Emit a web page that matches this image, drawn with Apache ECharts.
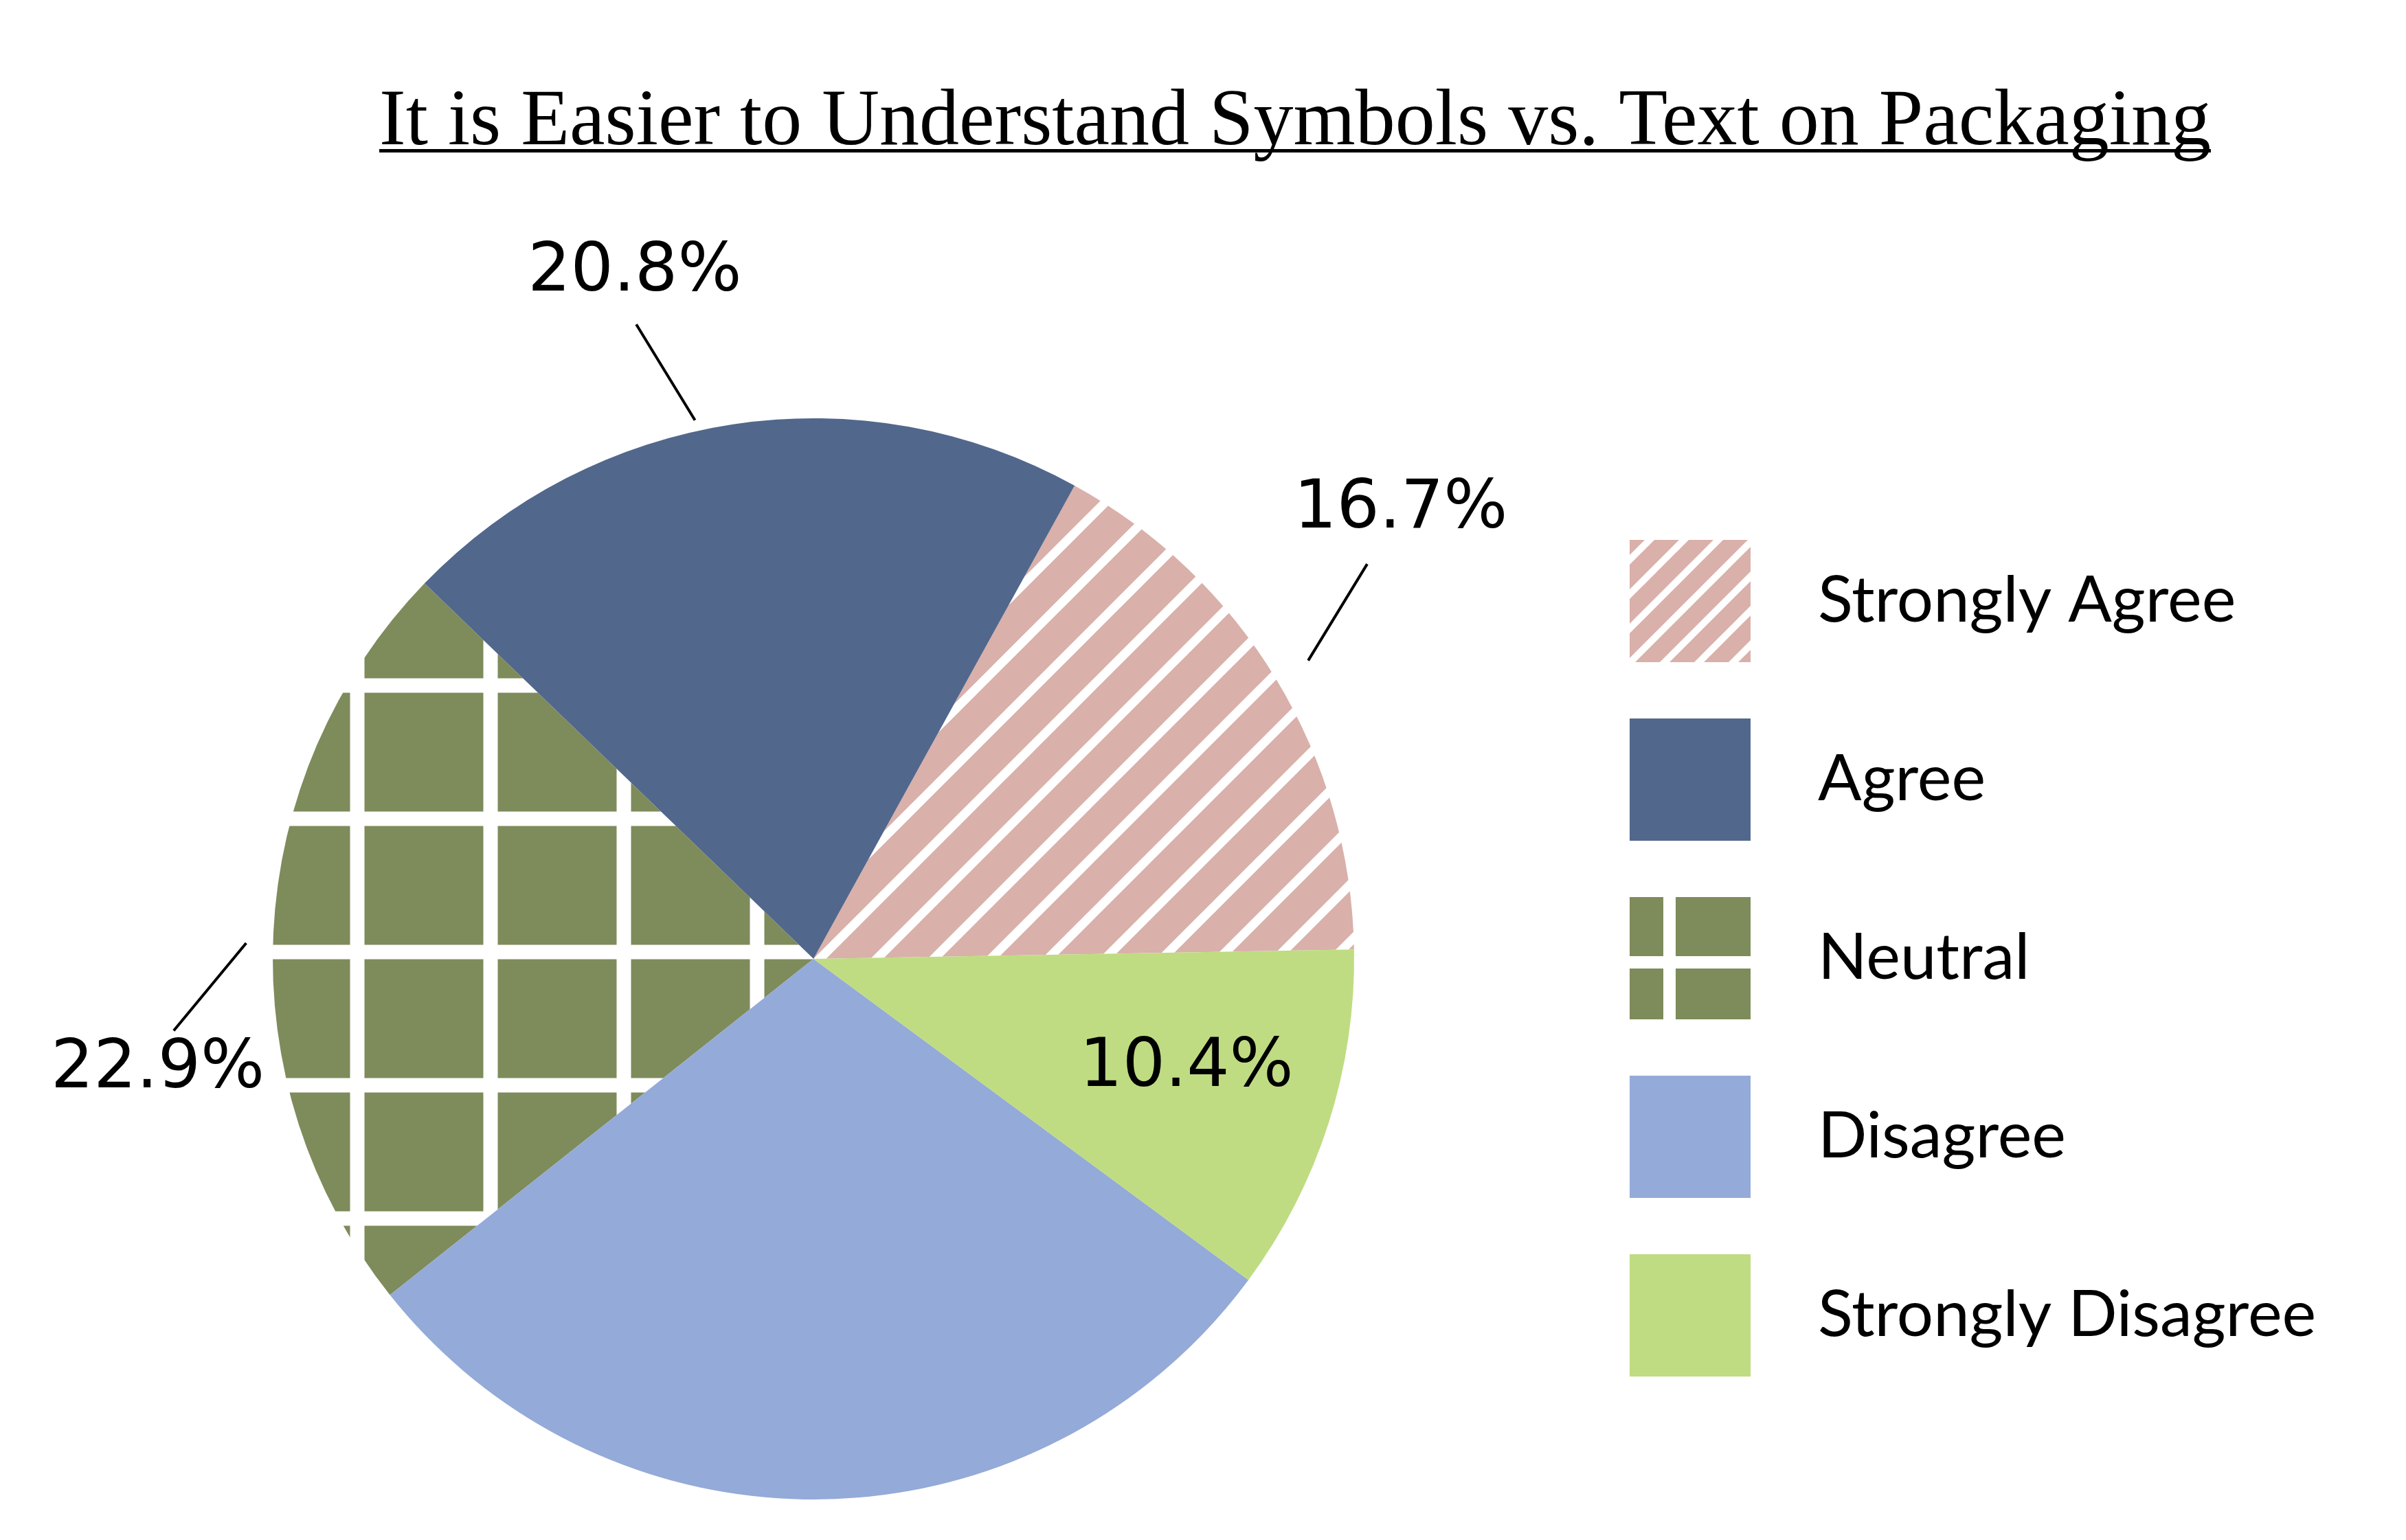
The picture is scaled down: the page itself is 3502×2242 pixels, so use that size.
<!DOCTYPE html>
<html><head><meta charset="utf-8">
<script src="https://cdn.jsdelivr.net/npm/echarts@6/dist/echarts.min.js"></script>
<style>html,body{margin:0;padding:0;background:#fff}#chart{width:3502px;height:2242px}</style>
</head><body><div id="chart"></div>
<script>
// ---------- data ----------
const titleText = 'It is Easier to Understand Symbols vs. Text on Packaging';
const categories = ['Strongly Agree', 'Agree', 'Neutral', 'Disagree', 'Strongly Disagree'];
const values = [16.7, 20.8, 22.9, 29.2, 10.4];
const labelShown = [true, true, true, false, true];

// ---------- styles / layout ----------
const baseColors = ['#d9b0aa', '#52678c', '#7e8b5b', '#94aad8', '#bfdc82'];
const CX = 1184, CY = 1396, R = 787;
const TITLE_FS = 116, TITLE_CENTER_X = 1885;
// label placement in polar form around the pie centre: [angleDeg, distancePx]
const labelPlacement = [
  { text: [37.4, 1076], line: [[31.1, 841], [35.5, 990]] },
  { text: [104.6, 1032], line: [[102.4, 803], [105.6, 959]] },
  { text: [189.6, 968], line: [[178.4, 826], [186.4, 937]] },
  null,
  { text: [-16.4, 566], line: null }
];

function polar(a, r) {
  const t = a * Math.PI / 180;
  return [CX + r * Math.cos(t), CY - r * Math.sin(t)];
}

function stripeTile(bg, period, lw, phase) {
  const c = document.createElement('canvas');
  c.width = c.height = period;
  const g = c.getContext('2d');
  g.fillStyle = bg; g.fillRect(0, 0, period, period);
  g.strokeStyle = '#ffffff'; g.lineWidth = lw;
  for (let k = -3; k <= 4; k++) {
    const s = phase + k * period;
    g.beginPath();
    g.moveTo(s + 3 * period, -3 * period);
    g.lineTo(-3 * period, s + 3 * period);
    g.stroke();
  }
  return { image: c, repeat: 'repeat' };
}
function gridTile(bg, period, lw, ox, oy) {
  const c = document.createElement('canvas');
  c.width = c.height = period;
  const g = c.getContext('2d');
  g.fillStyle = bg; g.fillRect(0, 0, period, period);
  g.fillStyle = '#ffffff';
  for (let k = -1; k <= 1; k++) {
    g.fillRect(ox - lw / 2 + k * period, 0, lw, period);
    g.fillRect(0, oy - lw / 2 + k * period, period, lw);
  }
  return { image: c, repeat: 'repeat' };
}

const pieFills = [
  stripeTile(baseColors[0], 83, 13, 16),
  baseColors[1],
  gridTile(baseColors[2], 194, 21, 132, 28),
  baseColors[3],
  baseColors[4]
];
const legendFills = [
  stripeTile(baseColors[0], 50, 10, 29),
  baseColors[1],
  gridTile(baseColors[2], 194, 18, 58, 95),
  baseColors[3],
  baseColors[4]
];

// measure title for underline
const mctx = document.createElement('canvas').getContext('2d');
mctx.font = TITLE_FS + 'px "Liberation Serif"';
const titleW = mctx.measureText(titleText).width;
const titleLeft = TITLE_CENTER_X - titleW / 2;

const chart = echarts.init(document.getElementById('chart'), null, { renderer: 'canvas' });
chart.setOption({
  animation: false,
  backgroundColor: '#ffffff',
  title: {
    text: titleText,
    left: titleLeft,
    top: 122,
    padding: 0,
    textStyle: { fontFamily: 'Liberation Serif', fontSize: TITLE_FS, fontWeight: 'normal', color: '#000' }
  },
  graphic: [{
    type: 'rect',
    shape: { x: titleLeft, y: 217, width: titleW, height: 5 },
    style: { fill: '#000' },
    silent: true
  }],
  legend: {
    orient: 'vertical',
    left: 2372,
    top: 786,
    padding: 0,
    itemWidth: 176,
    itemHeight: 178,
    itemGap: 82,
    icon: 'rect',
    selectedMode: false,
    textStyle: { fontFamily: 'Lato', fontSize: 94, color: '#000', padding: [0, 0, 0, 93] },
    data: categories.map((n, i) => ({ name: n, itemStyle: { color: legendFills[i], borderWidth: 0 } }))
  },
  series: [{
    type: 'pie',
    center: [CX, CY],
    radius: R,
    startAngle: 1,
    clockwise: false,
    avoidLabelOverlap: false,
    emphasis: { disabled: true },
    itemStyle: { borderWidth: 0 },
    label: {
      position: 'outside',
      formatter: p => p.value.toFixed(1) + '%',
      fontFamily: 'DejaVu Sans',
      fontSize: 98,
      color: '#000'
    },
    labelLine: { lineStyle: { color: '#000', width: 4 } },
    labelLayout: function (params) {
      const p = labelPlacement[params.dataIndex];
      if (!p) return {};
      const t = polar(p.text[0], p.text[1]);
      const out = { x: t[0], y: t[1], align: 'center', verticalAlign: 'middle' };
      if (p.line) {
        const a = polar(p.line[0][0], p.line[0][1]);
        const b = polar(p.line[1][0], p.line[1][1]);
        out.labelLinePoints = [a, [(a[0] + b[0]) / 2, (a[1] + b[1]) / 2], b];
      }
      return out;
    },
    data: categories.map((n, i) => ({
      name: n,
      value: values[i],
      itemStyle: { color: pieFills[i] },
      label: { show: labelShown[i] },
      labelLine: { show: !!(labelPlacement[i] && labelPlacement[i].line) }
    }))
  }]
});
</script>
</body></html>
